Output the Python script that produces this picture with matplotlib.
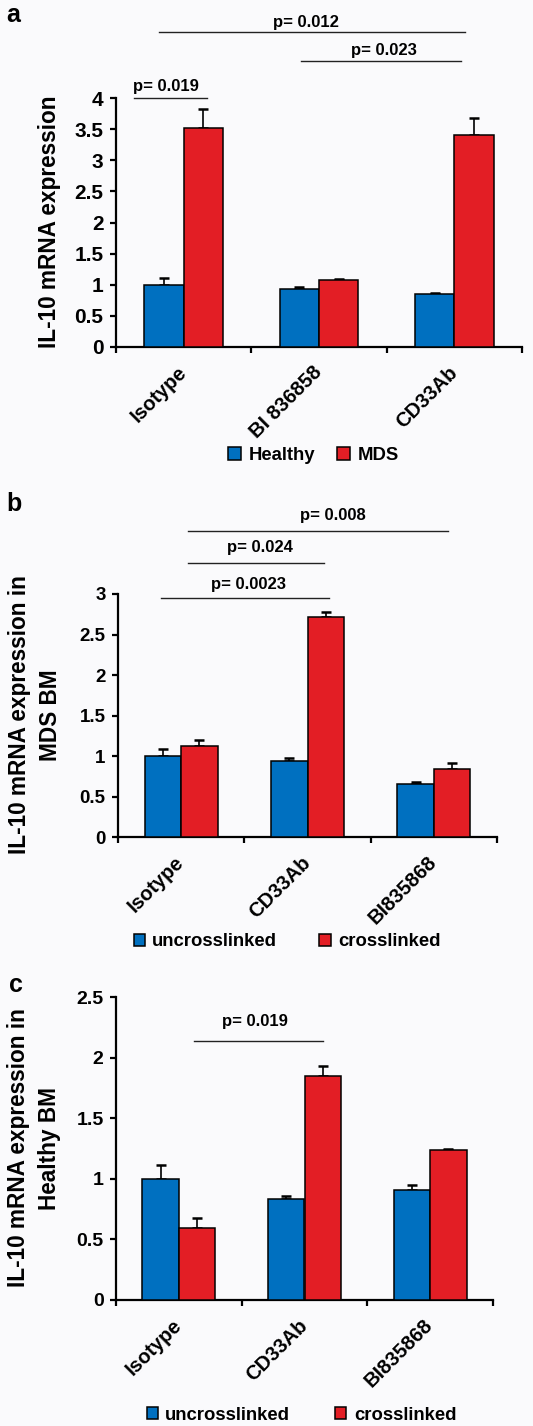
import numpy as np
import matplotlib
matplotlib.use('Agg')
import matplotlib.pyplot as plt
from matplotlib.ticker import FormatStrFormatter

plt.rcParams['font.family'] = ['Liberation Sans', 'DejaVu Sans']
plt.rcParams['font.weight'] = 'bold'

W, H = 533, 1426
BLUE = '#0070c0'
RED = '#e31e25'
BG = '#fafafc'

# panel a
a_groups = ['Isotype', 'BI 836858', 'CD33Ab']
a_healthy = [1.00, 0.93, 0.85]
a_healthy_err = [0.11, 0.03, 0.02]
a_mds = [3.52, 1.07, 3.41]
a_mds_err = [0.30, 0.02, 0.27]
a_legend = ['Healthy', 'MDS']

# panel b
b_groups = ['Isotype', 'CD33Ab', 'BI835868']
b_uncross = [1.00, 0.94, 0.66]
b_uncross_err = [0.09, 0.04, 0.02]
b_cross = [1.12, 2.72, 0.84]
b_cross_err = [0.08, 0.06, 0.07]

# panel c
c_groups = ['Isotype', 'CD33Ab', 'BI835868']
c_uncross = [1.00, 0.83, 0.91]
c_uncross_err = [0.11, 0.03, 0.035]
c_cross = [0.59, 1.85, 1.24]
c_cross_err = [0.09, 0.08, 0.01]
bc_legend = ['uncrosslinked', 'crosslinked']

# significance lines: x0, x1, y, text x, text y, label
a_pvals = [(-0.37, 0.17, 4.00, -0.13, 4.18, 'p= 0.019'),
           (-0.18, 2.08, 5.06, 0.90, 5.21, 'p= 0.012'),
           (0.87, 2.05, 4.60, 1.48, 4.76, 'p= 0.023')]
b_pvals = [(-0.16, 1.17, 2.95, 0.53, 3.12, 'p= 0.0023'),
           (0.056, 1.13, 3.38, 0.62, 3.58, 'p= 0.024'),
           (0.056, 2.11, 3.78, 1.20, 3.975, 'p= 0.008')]
c_pvals = [(0.12, 1.147, 2.138, 0.606, 2.294, 'p= 0.019')]

fig = plt.figure(figsize=(W / 100, H / 100), dpi=100, facecolor=BG)


def px_axes(l, t, r, b):
    return fig.add_axes([l / W, 1 - b / H, (r - l) / W, (b - t) / H])


def panel(rect, groups, s1, e1, s2, e2, ymax, pvals, names, ytick_fs,
          ylabel, ylab_xy, letter, letter_xy, leg_xy, colsp, hlen):
    ax = px_axes(*rect)
    ax.set_facecolor(BG)
    x = np.arange(len(groups))
    w = 0.29
    b1 = ax.bar(x - w / 2, s1, w, color=BLUE, edgecolor='black', linewidth=1.1, zorder=3)
    b2 = ax.bar(x + w / 2, s2, w, color=RED, edgecolor='black', linewidth=1.1, zorder=3)
    ax.errorbar(x - w / 2, s1, yerr=[np.zeros(len(e1)), e1], fmt='none', ecolor='black',
                elinewidth=1.2, capsize=3.4, capthick=1.8, zorder=2)
    ax.errorbar(x + w / 2, s2, yerr=[np.zeros(len(e2)), e2], fmt='none', ecolor='black',
                elinewidth=1.2, capsize=3.4, capthick=1.8, zorder=2)
    ax.set_xlim(-0.5, len(groups) - 0.5)
    ax.set_ylim(0, ymax)
    ax.set_yticks(np.arange(0, ymax + 0.01, 0.5))
    ax.yaxis.set_major_formatter(FormatStrFormatter('%g'))
    ax.set_xticks(x)
    ax.set_xticklabels(groups, rotation=45, ha='right', va='center',
                       rotation_mode='anchor', fontsize=14.5)
    ax.set_xticks(np.arange(-0.5, len(groups)), minor=True)
    ax.tick_params(axis='x', which='major', length=0, pad=16)
    ax.tick_params(axis='x', which='minor', length=4, width=1.6, direction='out')
    ax.tick_params(axis='y', length=4, width=1.6, labelsize=ytick_fs, pad=5)
    for s in ['top', 'right']:
        ax.spines[s].set_visible(False)
    for s in ['left', 'bottom']:
        ax.spines[s].set_linewidth(1.6)
    for x0, x1, y, tx, ty, lab in pvals:
        ax.plot([x0, x1], [y, y], color='#222222', lw=1.0, clip_on=False)
        ax.text(tx, ty, lab, ha='center', va='center', fontsize=12, clip_on=False)
    fig.text(ylab_xy[0] / W, 1 - ylab_xy[1] / H, ylabel, rotation=90, ha='center',
             va='center', fontsize=16.3, multialignment='center', linespacing=1.4)
    fig.text(letter_xy[0] / W, 1 - letter_xy[1] / H, letter, ha='center', va='center',
             fontsize=18)
    ax.legend([b1, b2], names, loc='center', bbox_to_anchor=(leg_xy[0] / W, 1 - leg_xy[1] / H),
              bbox_transform=fig.transFigure, ncol=2, frameon=False, fontsize=13.3,
              handlelength=hlen, handleheight=hlen, handletextpad=0.4,
              columnspacing=colsp, borderpad=0)
    return ax


panel((116, 98, 522, 347), a_groups, a_healthy, a_healthy_err, a_mds, a_mds_err, 4,
      a_pvals, a_legend, 15, 'IL-10 mRNA expression', (50, 221.5), 'a', (13, 15),
      (313.5, 455), 1.2, 0.7)
panel((118, 594, 497, 837), b_groups, b_uncross, b_uncross_err, b_cross, b_cross_err, 3,
      b_pvals, bc_legend, 13.5, 'IL-10 mRNA expression in\nMDS BM', (35, 715), 'b', (14, 504),
      (287, 942), 2.3, 0.6)
panel((116, 997, 493, 1300), c_groups, c_uncross, c_uncross_err, c_cross, c_cross_err, 2.5,
      c_pvals, bc_legend, 14, 'IL-10 mRNA expression in\nHealthy BM', (34, 1148), 'c', (16, 985),
      (301.5, 1415), 2.45, 0.6)

fig.savefig('out.png', dpi=100, facecolor=BG)
